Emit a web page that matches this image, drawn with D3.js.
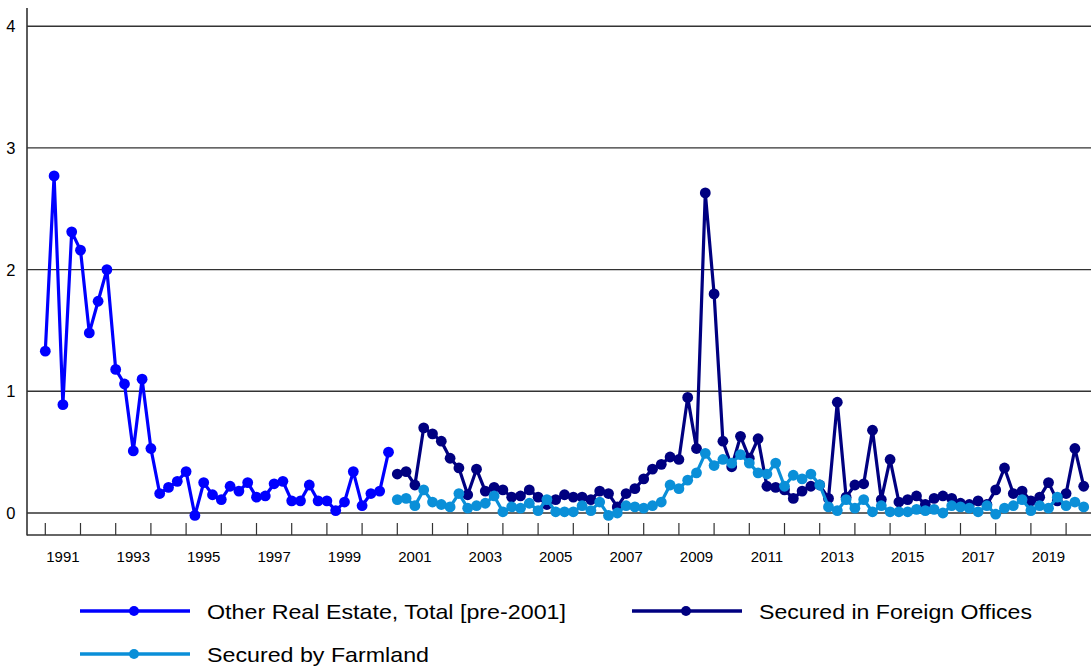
<!DOCTYPE html>
<html><head><meta charset="utf-8">
<script src="https://cdn.jsdelivr.net/npm/d3@7"></script>
<style>html,body{margin:0;padding:0;background:#fff;overflow:hidden}svg{display:block;font-family:Arial,"Liberation Sans",sans-serif}</style>
</head><body>
<svg id="chart" width="1091" height="669"></svg>
<script>
// quarterly series, first value = 1991 Q1 (pre-2001) / 2001 Q1 (others)
const startOtherRE = 1991;
const startNew = 2001;
const otherRealEstate = [1.33,2.77,0.89,2.31,2.16,1.48,1.74,2.00,1.18,1.06,0.51,1.10,0.53,0.16,0.21,0.26,0.34,-0.02,0.25,0.15,0.11,0.22,0.18,0.25,0.13,0.14,0.24,0.26,0.10,0.10,0.23,0.10,0.10,0.02,0.09,0.34,0.06,0.16,0.18,0.50];
const foreignOffices = [0.32,0.34,0.23,0.70,0.65,0.59,0.45,0.37,0.15,0.36,0.18,0.21,0.19,0.13,0.14,0.19,0.13,0.07,0.11,0.15,0.13,0.13,0.11,0.18,0.16,0.05,0.16,0.20,0.28,0.36,0.40,0.46,0.44,0.95,0.53,2.63,1.80,0.59,0.38,0.63,0.45,0.61,0.22,0.21,0.19,0.12,0.18,0.22,0.23,0.12,0.91,0.13,0.23,0.24,0.68,0.11,0.44,0.09,0.11,0.14,0.07,0.12,0.14,0.12,0.08,0.07,0.10,0.07,0.19,0.37,0.16,0.18,0.10,0.13,0.25,0.10,0.16,0.53,0.22];
const farmland = [0.11,0.12,0.06,0.19,0.09,0.07,0.05,0.16,0.04,0.06,0.08,0.14,0.01,0.05,0.04,0.08,0.02,0.11,0.01,0.01,0.01,0.06,0.02,0.09,-0.02,0.00,0.06,0.05,0.04,0.06,0.09,0.23,0.20,0.27,0.33,0.49,0.39,0.44,0.41,0.48,0.41,0.33,0.32,0.41,0.22,0.31,0.28,0.32,0.23,0.05,0.02,0.11,0.04,0.11,0.01,0.06,0.01,0.01,0.01,0.03,0.02,0.03,0.00,0.06,0.05,0.04,0.01,0.06,-0.01,0.04,0.06,0.11,0.02,0.06,0.04,0.13,0.06,0.09,0.05];
const yTicks = [0,1,2,3,4];
const tickYears = d3.range(1991, 2021);
const labelYears = d3.range(1991, 2020, 2);
const seriesNames = ["Other Real Estate, Total [pre-2001]", "Secured in Foreign Offices", "Secured by Farmland"];
const seriesColors = ["#0000ff", "#000080", "#0a8fd8"];

const svg = d3.select("#chart");
const x = d3.scaleLinear().domain([1991, 2021]).range([45.3, 1101.3]);
const y = d3.scaleLinear().domain([0, 4]).range([513, 26.2]);
const axisX0 = 27, axisY0 = 535, W = 1091;

// gridlines
svg.append("g").selectAll("line").data(yTicks).join("line")
  .attr("x1", axisX0).attr("x2", W).attr("y1", d => y(d)).attr("y2", d => y(d))
  .attr("stroke", "#333").attr("stroke-width", 1.4);
// y labels
svg.append("g").selectAll("text").data(yTicks).join("text")
  .attr("x", 15.5).attr("y", d => y(d)).attr("dy", "0.36em").attr("text-anchor", "end")
  .attr("font-size", 16.5).attr("fill", "#000").text(d => d);
// axes lines
svg.append("line").attr("x1", axisX0).attr("x2", axisX0).attr("y1", 8).attr("y2", axisY0 + 0.5)
  .attr("stroke", "#333").attr("stroke-width", 1.6);
svg.append("line").attr("x1", axisX0).attr("x2", W).attr("y1", axisY0).attr("y2", axisY0)
  .attr("stroke", "#333").attr("stroke-width", 1.6);
// x ticks
svg.append("g").selectAll("line").data(tickYears).join("line")
  .attr("x1", d => x(d)).attr("x2", d => x(d)).attr("y1", axisY0).attr("y2", axisY0 - 12)
  .attr("stroke", "#333").attr("stroke-width", 1.2);
svg.append("g").selectAll("text").data(labelYears).join("text")
  .attr("x", d => x(d + 0.5)).attr("y", 562).attr("text-anchor", "middle")
  .attr("font-size", 15).attr("fill", "#000").text(d => d);

function toPoints(vals, start) {
  return vals.map((v, i) => ({t: start + i / 4, v}));
}
const series = [
  toPoints(otherRealEstate, startOtherRE),
  toPoints(foreignOffices, startNew),
  toPoints(farmland, startNew)
];
const line = d3.line().x(d => x(d.t)).y(d => y(d.v));
series.forEach((pts, k) => {
  const g = svg.append("g");
  g.append("path").datum(pts).attr("d", line).attr("fill", "none")
    .attr("stroke", seriesColors[k]).attr("stroke-width", 3.2).attr("stroke-linejoin", "round");
  g.selectAll("circle").data(pts).join("circle")
    .attr("cx", d => x(d.t)).attr("cy", d => y(d.v)).attr("r", 5.4).attr("fill", seriesColors[k]);
});

// legend
const legendItems = [
  {name: seriesNames[0], color: seriesColors[0], lx: 80, ly: 611, w: 359},
  {name: seriesNames[1], color: seriesColors[1], lx: 632, ly: 611, w: 273},
  {name: seriesNames[2], color: seriesColors[2], lx: 80, ly: 654, w: 222}
];
const lg = svg.append("g").selectAll("g").data(legendItems).join("g");
lg.append("line").attr("x1", d => d.lx).attr("x2", d => d.lx + 110).attr("y1", d => d.ly).attr("y2", d => d.ly)
  .attr("stroke", d => d.color).attr("stroke-width", 3.5);
lg.append("circle").attr("cx", d => d.lx + 54).attr("cy", d => d.ly).attr("r", 5).attr("fill", d => d.color);
lg.append("text").attr("x", d => d.lx + 127).attr("y", d => d.ly).attr("dy", "0.36em")
  .attr("font-size", 21).attr("textLength", d => d.w).attr("lengthAdjust", "spacingAndGlyphs")
  .attr("fill", "#000").text(d => d.name);
</script>
</body></html>
